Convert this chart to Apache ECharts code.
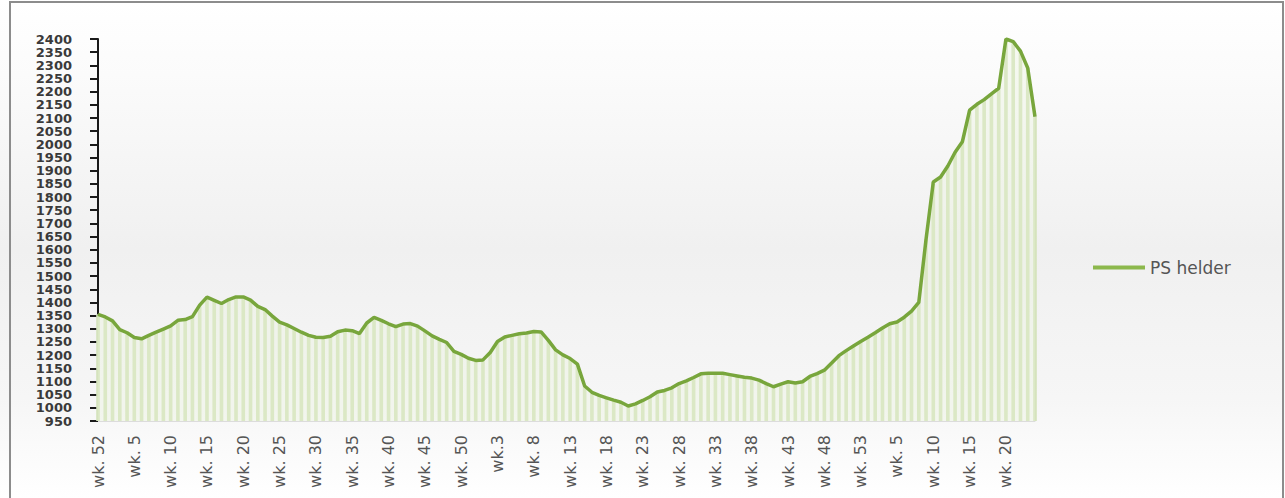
<!DOCTYPE html>
<html>
<head>
<meta charset="utf-8">
<script src="https://cdn.jsdelivr.net/npm/echarts@6/dist/echarts.min.js"></script>
<style>
  html, body { margin: 0; padding: 0; background: #ffffff; }
  #chart { width: 1285px; height: 498px; }
</style>
</head>
<body>
<div id="chart"></div>
<script>
// ---- Data ----
// Week sequences (tick labels): last week of year 1, then full years, then partial year
const yearAWeeks = [52];
const yearBWeeks = Array.from({length: 52}, (_, i) => i + 1);
const yearCWeeks = Array.from({length: 53}, (_, i) => i + 1);
const yearDWeeks = Array.from({length: 24}, (_, i) => i + 1);

const categories = []
  .concat(yearAWeeks.map(w => 'wk. ' + w))
  .concat(yearBWeeks.map(w => 'wk. ' + w))
  .concat(yearCWeeks.map(w => (w === 3 ? 'wk.3' : 'wk. ' + w)))
  .concat(yearDWeeks.map(w => 'wk. ' + w));

const seriesName = 'PS helder';

const psHelder = [
  1355,1345,1330,1297,1285,1267,1262,1275,1287,1299,
  1311,1332,1335,1346,1390,1420,1408,1396,1411,1421,
  1421,1409,1385,1373,1348,1325,1315,1301,1287,1275,
  1268,1267,1272,1289,1295,1293,1282,1322,1343,1332,
  1319,1308,1318,1320,1310,1292,1273,1260,1248,1214,
  1203,1188,1180,1182,1210,1252,1269,1275,1281,1284,
  1290,1288,1256,1220,1201,1187,1166,1083,1059,1047,
  1038,1029,1021,1007,1015,1028,1042,1060,1066,1076,
  1092,1102,1115,1129,1131,1131,1131,1126,1121,1116,
  1113,1105,1092,1080,1090,1099,1094,1099,1119,1130,
  1143,1170,1198,1217,1235,1252,1268,1285,1303,1319,
  1326,1344,1367,1400,1640,1857,1876,1918,1970,2010,
  2130,2152,2170,2192,2213,2400,2390,2354,2290,2105
];

const yMin = 950, yMax = 2400, yStep = 50;

// ---- Chart ----
const chart = echarts.init(document.getElementById('chart'), null, {renderer: 'svg'});
const option = {
  animation: false,
  backgroundColor: {
    type: 'linear', x: 0, y: 0, x2: 0, y2: 1,
    colorStops: [
      {offset: 0, color: '#ffffff'},
      {offset: 0.15, color: '#fbfbfb'},
      {offset: 0.5, color: '#f0f0f0'},
      {offset: 0.8, color: '#f6f6f6'},
      {offset: 1, color: '#ffffff'}
    ]
  },
  graphic: [{
    type: 'rect',
    shape: {x: 10, y: 2, width: 1273, height: 520},
    style: {fill: 'none', stroke: '#8c8c8c', lineWidth: 2},
    silent: true,
    z: 100
  }],
  grid: {left: 98, right: 250, top: 39, bottom: 77, containLabel: false},
  legend: {
    data: [seriesName],
    left: 1088,
    top: 254,
    icon: 'rect',
    itemWidth: 52,
    itemHeight: 4,
    itemGap: 4,
    textStyle: {fontFamily: 'DejaVu Sans', fontSize: 17, color: '#555555'}
  },
  xAxis: {
    type: 'category',
    data: categories,
    boundaryGap: false,
    axisLine: {show: true, lineStyle: {color: '#dcdcdc', width: 1}},
    axisTick: {show: false},
    splitLine: {show: false},
    axisLabel: {
      interval: 4,
      rotate: 90,
      margin: 14,
      fontFamily: 'DejaVu Sans',
      fontSize: 16,
      color: '#555555'
    }
  },
  yAxis: {
    type: 'value',
    min: yMin,
    max: yMax,
    interval: yStep,
    axisLine: {show: true, lineStyle: {color: '#1a1a1a', width: 2}},
    axisTick: {show: true, length: 8, inside: false, lineStyle: {color: '#1a1a1a', width: 2}},
    splitLine: {show: false},
    axisLabel: {
      margin: 26,
      fontFamily: 'DejaVu Sans',
      fontWeight: 'bold',
      fontSize: 13,
      lineHeight: 12,
      color: '#3a3a3a',
      showMinLabel: true,
      showMaxLabel: true,
      hideOverlap: false,
      formatter: v => String(v)
    }
  },
  series: [
    {
      name: 'stripes',
      type: 'bar',
      data: psHelder,
      barWidth: '50%',
      itemStyle: {color: '#d5e3bd'},
      silent: true,
      z: 1
    },
    {
      name: seriesName,
      type: 'line',
      data: psHelder,
      showSymbol: false,
      smooth: false,
      lineStyle: {color: '#78a63c', width: 3.5},
      itemStyle: {color: '#8cb84c'},
      areaStyle: {color: 'rgba(232, 241, 218, 0.45)', origin: 'start'},
      z: 3
    }
  ]
};
chart.setOption(option);
</script>
</body>
</html>
